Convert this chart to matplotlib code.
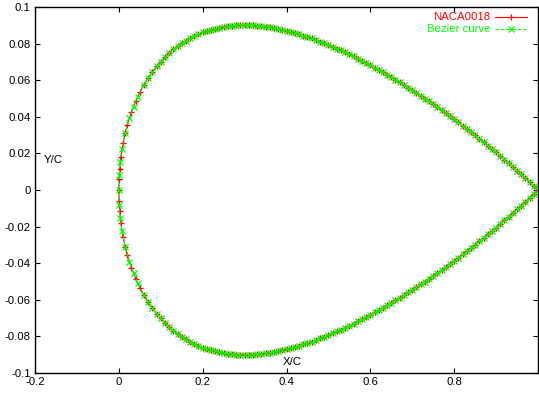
import matplotlib
matplotlib.use("Agg")
import matplotlib.pyplot as plt
from matplotlib.lines import Line2D

plt.rcParams['font.family'] = ['Liberation Sans', 'DejaVu Sans']

# NACA0018 upper surface (lower surface is the mirror image)
naca_x = [0.0, 0.0005, 0.002, 0.005, 0.01, 0.015, 0.02, 0.03, 0.04, 0.05,
          0.06, 0.07, 0.08, 0.09,
          0.10, 0.11, 0.12, 0.13, 0.14, 0.15, 0.16, 0.17, 0.18, 0.19,
          0.20, 0.21, 0.22, 0.23, 0.24, 0.25, 0.26, 0.27, 0.28, 0.29,
          0.30, 0.31, 0.32, 0.33, 0.34, 0.35, 0.36, 0.37, 0.38, 0.39,
          0.40, 0.41, 0.42, 0.43, 0.44, 0.45, 0.46, 0.47, 0.48, 0.49,
          0.50, 0.51, 0.52, 0.53, 0.54, 0.55, 0.56, 0.57, 0.58, 0.59,
          0.60, 0.61, 0.62, 0.63, 0.64, 0.65, 0.66, 0.67, 0.68, 0.69,
          0.70, 0.71, 0.72, 0.73, 0.74, 0.75, 0.76, 0.77, 0.78, 0.79,
          0.80, 0.81, 0.82, 0.83, 0.84, 0.85, 0.86, 0.87, 0.88, 0.89,
          0.90, 0.91, 0.92, 0.93, 0.94, 0.95, 0.96, 0.97, 0.98, 0.99, 1.0]
naca_y = [0.0, 0.0059, 0.0117, 0.0183, 0.0256, 0.0310, 0.0354, 0.0426, 0.0484, 0.0533,
          0.0576, 0.0613, 0.0646, 0.0676,
          0.0702, 0.0726, 0.0748, 0.0768, 0.0786, 0.0802, 0.0816, 0.0829, 0.0841, 0.0851,
          0.0861, 0.0869, 0.0876, 0.0882, 0.0887, 0.0891, 0.0894, 0.0897, 0.0899, 0.0900,
          0.0900, 0.0900, 0.0899, 0.0897, 0.0895, 0.0892, 0.0889, 0.0885, 0.0880, 0.0875,
          0.0870, 0.0864, 0.0858, 0.0851, 0.0844, 0.0836, 0.0828, 0.0820, 0.0811, 0.0802,
          0.0793, 0.0783, 0.0773, 0.0763, 0.0752, 0.0741, 0.0730, 0.0718, 0.0707, 0.0694,
          0.0682, 0.0669, 0.0657, 0.0643, 0.0630, 0.0617, 0.0603, 0.0589, 0.0574, 0.0560,
          0.0545, 0.0530, 0.0515, 0.0500, 0.0484, 0.0468, 0.0452, 0.0436, 0.0419, 0.0403,
          0.0386, 0.0369, 0.0351, 0.0334, 0.0316, 0.0298, 0.0280, 0.0261, 0.0243, 0.0224,
          0.0205, 0.0185, 0.0166, 0.0146, 0.0126, 0.0106, 0.0085, 0.0064, 0.0043, 0.0022, 0.0]

# Bezier curve fit, upper surface
bez_x = [0.0, 0.001, 0.0035, 0.0075, 0.015, 0.025, 0.035, 0.045, 0.06, 0.07,
         0.08, 0.09,
         0.10, 0.11, 0.12, 0.13, 0.14, 0.15, 0.16, 0.17, 0.18, 0.19,
         0.20, 0.21, 0.22, 0.23, 0.24, 0.25, 0.26, 0.27, 0.28, 0.29,
         0.30, 0.31, 0.32, 0.33, 0.34, 0.35, 0.36, 0.37, 0.38, 0.39,
         0.40, 0.41, 0.42, 0.43, 0.44, 0.45, 0.46, 0.47, 0.48, 0.49,
         0.50, 0.51, 0.52, 0.53, 0.54, 0.55, 0.56, 0.57, 0.58, 0.59,
         0.60, 0.61, 0.62, 0.63, 0.64, 0.65, 0.66, 0.67, 0.68, 0.69,
         0.70, 0.71, 0.72, 0.73, 0.74, 0.75, 0.76, 0.77, 0.78, 0.79,
         0.80, 0.81, 0.82, 0.83, 0.84, 0.85, 0.86, 0.87, 0.88, 0.89,
         0.90, 0.91, 0.92, 0.93, 0.94, 0.95, 0.96, 0.97, 0.98, 0.99, 1.0]
bez_y = [0.0, 0.0083, 0.0154, 0.0223, 0.0310, 0.0392, 0.0456, 0.0510, 0.0576, 0.0613,
         0.0646, 0.0676,
         0.0702, 0.0726, 0.0748, 0.0768, 0.0786, 0.0802, 0.0816, 0.0829, 0.0841, 0.0851,
         0.0861, 0.0869, 0.0876, 0.0882, 0.0887, 0.0891, 0.0894, 0.0897, 0.0899, 0.0900,
         0.0900, 0.0900, 0.0899, 0.0897, 0.0895, 0.0892, 0.0889, 0.0885, 0.0880, 0.0875,
         0.0870, 0.0864, 0.0858, 0.0851, 0.0844, 0.0836, 0.0828, 0.0820, 0.0811, 0.0802,
         0.0793, 0.0783, 0.0773, 0.0763, 0.0752, 0.0741, 0.0730, 0.0718, 0.0707, 0.0694,
         0.0682, 0.0669, 0.0657, 0.0643, 0.0630, 0.0617, 0.0603, 0.0589, 0.0574, 0.0560,
         0.0545, 0.0530, 0.0515, 0.0500, 0.0484, 0.0468, 0.0452, 0.0436, 0.0419, 0.0403,
         0.0386, 0.0369, 0.0351, 0.0334, 0.0316, 0.0298, 0.0280, 0.0261, 0.0243, 0.0224,
         0.0205, 0.0185, 0.0166, 0.0146, 0.0126, 0.0106, 0.0085, 0.0064, 0.0043, 0.0022, 0.0]

xticks = [-0.2, 0, 0.2, 0.4, 0.6, 0.8, 1.0]
xtick_labels = ["-0.2", "0", "0.2", "0.4", "0.6", "0.8", ""]
yticks = [-0.1, -0.08, -0.06, -0.04, -0.02, 0, 0.02, 0.04, 0.06, 0.08, 0.1]
ytick_labels = ["-0.1", "-0.08", "-0.06", "-0.04", "-0.02", "0",
                "0.02", "0.04", "0.06", "0.08", "0.1"]


def closeLoop(xs, ys):
	# trailing edge -> upper -> leading edge -> lower -> trailing edge
	loop_x = xs[::-1] + xs[1:]
	loop_y = ys[::-1] + [-v for v in ys[1:]]
	return loop_x, loop_y


fig = plt.figure(figsize=(5.39, 3.96), dpi=100)
ax = fig.add_axes([35 / 539, 23 / 396, 503 / 539, 366 / 396])

nx, ny = closeLoop(naca_x, naca_y)
bx, by = closeLoop(bez_x, bez_y)

ax.plot(nx, ny, color="#ff0000", lw=0.8, marker="+", ms=5, mew=0.9)
ax.plot(bx, by, color="#00ff00", lw=0.8, ls=(0, (3, 2)), marker="x", ms=3.8, mew=0.9)

ax.set_xlim(-0.2, 1.0)
ax.set_ylim(-0.1, 0.1)
ax.set_xticks(xticks)
ax.set_xticklabels(xtick_labels)
ax.set_yticks(yticks)
ax.set_yticklabels(ytick_labels)
ax.tick_params(direction="in", length=3.5, width=0.8, labelsize=8.2,
               top=True, right=True, pad=3)
for s in ax.spines.values():
	s.set_linewidth(1.0)

ax.text(0.036, 0.582, "Y/C", transform=ax.transAxes, fontsize=8.2,
        ha="center", va="center")
ax.text(0.511, 0.030, "X/C", transform=ax.transAxes, fontsize=8.2,
        ha="center", va="center")

# legend, gnuplot style (right aligned text, sample on the right)
ax.text(0.905, 0.973, "NACA0018", transform=ax.transAxes, fontsize=8.2,
        color="#ff0000", ha="right", va="center")
ax.text(0.905, 0.940, "Bezier curve", transform=ax.transAxes, fontsize=8.2,
        color="#00ff00", ha="right", va="center")
ax.add_line(Line2D([0.915, 0.946, 0.978], [0.973, 0.973, 0.973], transform=ax.transAxes,
                   color="#ff0000", lw=0.8, marker="+", ms=5, mew=0.9, markevery=[1]))
ax.add_line(Line2D([0.915, 0.946, 0.978], [0.940, 0.940, 0.940], transform=ax.transAxes,
                   color="#00ff00", lw=0.8, ls=(0, (3, 2)), marker="x", ms=3.8, mew=0.9,
                   markevery=[1]))

plt.savefig("out.png", dpi=100)
